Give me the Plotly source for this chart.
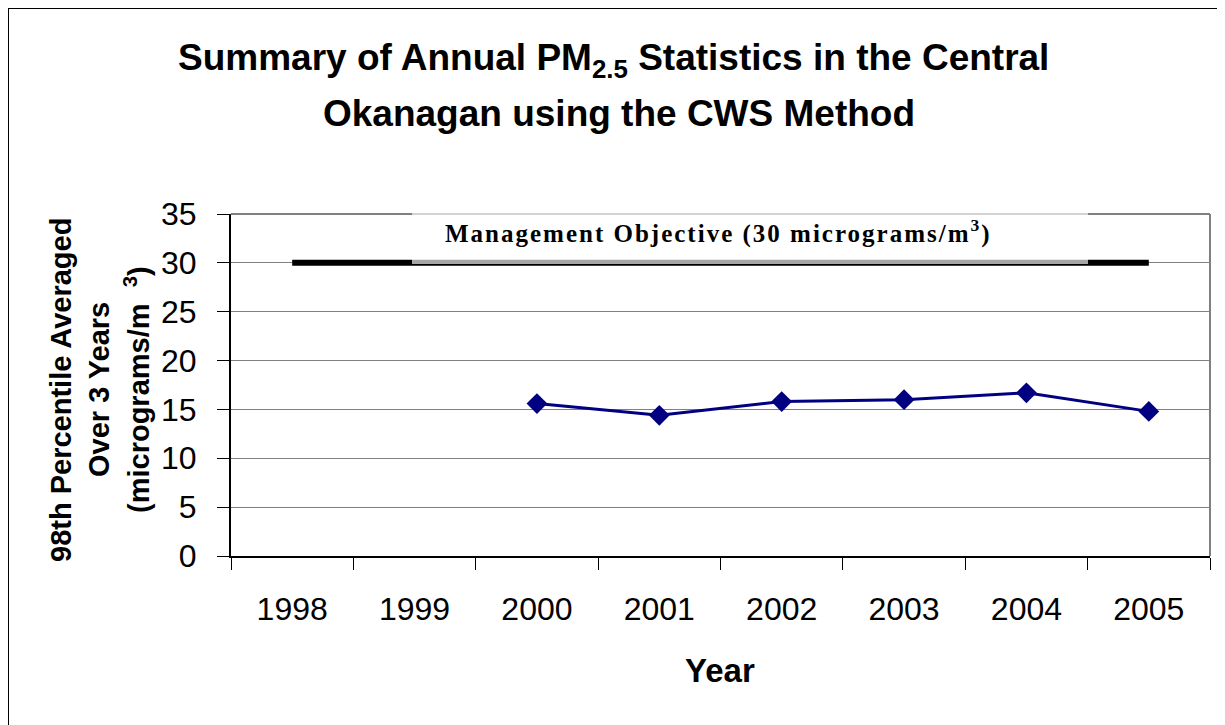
import plotly.graph_objects as go

years = ["1998", "1999", "2000", "2001", "2002", "2003", "2004", "2005"]
pm_years = ["2000", "2001", "2002", "2003", "2004", "2005"]
pm_values = [15.6, 14.4, 15.8, 16.0, 16.7, 14.8]
objective_years = ["1998", "2005"]
objective_values = [30, 30]
y_ticks = [0, 5, 10, 15, 20, 25, 30, 35]

OFF = 8  # page body margin
W, H = 1225 - OFF, 725 - OFF
# plot area in screenshot pixels
L, R, T, B = 231, 1210, 214, 556


def px(x):
    return (x - L) / (R - L)


def py(y):
    return (B - y) / (B - T)


fig = go.Figure()
fig.add_trace(go.Scatter(
    x=objective_years, y=objective_values, mode="lines",
    line=dict(color="black", width=6), hoverinfo="skip", showlegend=False))
fig.add_trace(go.Scatter(
    x=pm_years, y=pm_values, mode="lines+markers",
    line=dict(color="#000080", width=3),
    marker=dict(symbol="diamond", size=16, color="#000080"),
    showlegend=False))

shapes = [
    dict(type="line", xref="paper", yref="paper", x0=0, x1=1, y0=1, y1=1,
         line=dict(color="#808080", width=2), layer="below"),
    dict(type="line", xref="paper", yref="paper", x0=1, x1=1, y0=0, y1=1,
         line=dict(color="#808080", width=2), layer="below"),
    dict(type="rect", xref="paper", yref="paper", x0=px(412), x1=px(1088),
         y0=py(264), y1=py(213), fillcolor="rgba(255,255,255,0.65)",
         line=dict(width=0), layer="above"),
    # outer chart border (figure edge)
    dict(type="line", xref="paper", yref="paper", x0=px(OFF), x1=px(1260),
         y0=py(OFF), y1=py(OFF), line=dict(color="black", width=2)),
    dict(type="line", xref="paper", yref="paper", x0=px(OFF), x1=px(OFF),
         y0=py(OFF), y1=py(760), line=dict(color="black", width=2)),
]

annotations = [
    dict(text="<b>Summary of Annual PM<sub>2.5</sub> Statistics in the Central</b>",
         x=px(613), y=py(60), xref="paper", yref="paper", showarrow=False,
         font=dict(family="Arial", size=37, color="black"), xanchor="center", yanchor="middle"),
    dict(text="<b>Okanagan using the CWS Method</b>",
         x=px(619), y=py(113), xref="paper", yref="paper", showarrow=False,
         font=dict(family="Arial", size=37, color="black"), xanchor="center", yanchor="middle"),
    dict(text="<b><span style='letter-spacing:2px'>Management Objective (30 micrograms/m<sup>3</sup>)</span></b>",
         x=px(718), y=py(231), xref="paper", yref="paper", showarrow=False,
         font=dict(family="Times New Roman, Liberation Serif, serif", size=25, color="black"),
         xanchor="center", yanchor="middle"),
    dict(text="<b>98th Percentile Averaged</b>", x=px(61), y=py(390), xref="paper", yref="paper",
         showarrow=False, textangle=-90, xanchor="center", yanchor="middle",
         font=dict(family="Arial", size=29, color="black")),
    dict(text="<b>Over 3 Years</b>", x=px(99), y=py(390), xref="paper", yref="paper",
         showarrow=False, textangle=-90, xanchor="center", yanchor="middle",
         font=dict(family="Arial", size=29, color="black")),
    dict(text="<b>(micrograms/m  <sup>3</sup>)</b>", x=px(137), y=py(390), xref="paper", yref="paper",
         showarrow=False, textangle=-90, xanchor="center", yanchor="middle",
         font=dict(family="Arial", size=29, color="black")),
    dict(text="<b>Year</b>", x=px(720), y=py(670), xref="paper", yref="paper",
         showarrow=False, xanchor="center", yanchor="middle",
         font=dict(family="Arial", size=33, color="black")),
]

fig.update_layout(
    width=W, height=H, autosize=False,
    margin=dict(l=L - OFF, r=W + OFF - R, t=T - OFF, b=H + OFF - B, pad=0),
    paper_bgcolor="white", plot_bgcolor="white",
    shapes=shapes, annotations=annotations,
    font=dict(family="Arial", color="black"),
    xaxis=dict(
        type="category", categoryorder="array", categoryarray=years,
        tickvals=years, ticktext=years,
        range=[-0.5, 7.5], tickson="boundaries", ticks="outside", ticklen=12,
        tickcolor="black", tickwidth=1, showline=True, linecolor="black", linewidth=2,
        showgrid=False, zeroline=False, tickfont=dict(size=32, family="Arial"),
        ticklabelstandoff=24, fixedrange=True),
    yaxis=dict(
        range=[0, 35], tickvals=y_ticks, ticks="outside", ticklen=12, tickcolor="black",
        tickwidth=1, showline=True, linecolor="black", linewidth=2,
        showgrid=True, gridcolor="#808080", gridwidth=1, zeroline=False,
        tickfont=dict(size=32, family="Arial"), ticklabelstandoff=14, fixedrange=True),
)

fig.write_html("out.html")
